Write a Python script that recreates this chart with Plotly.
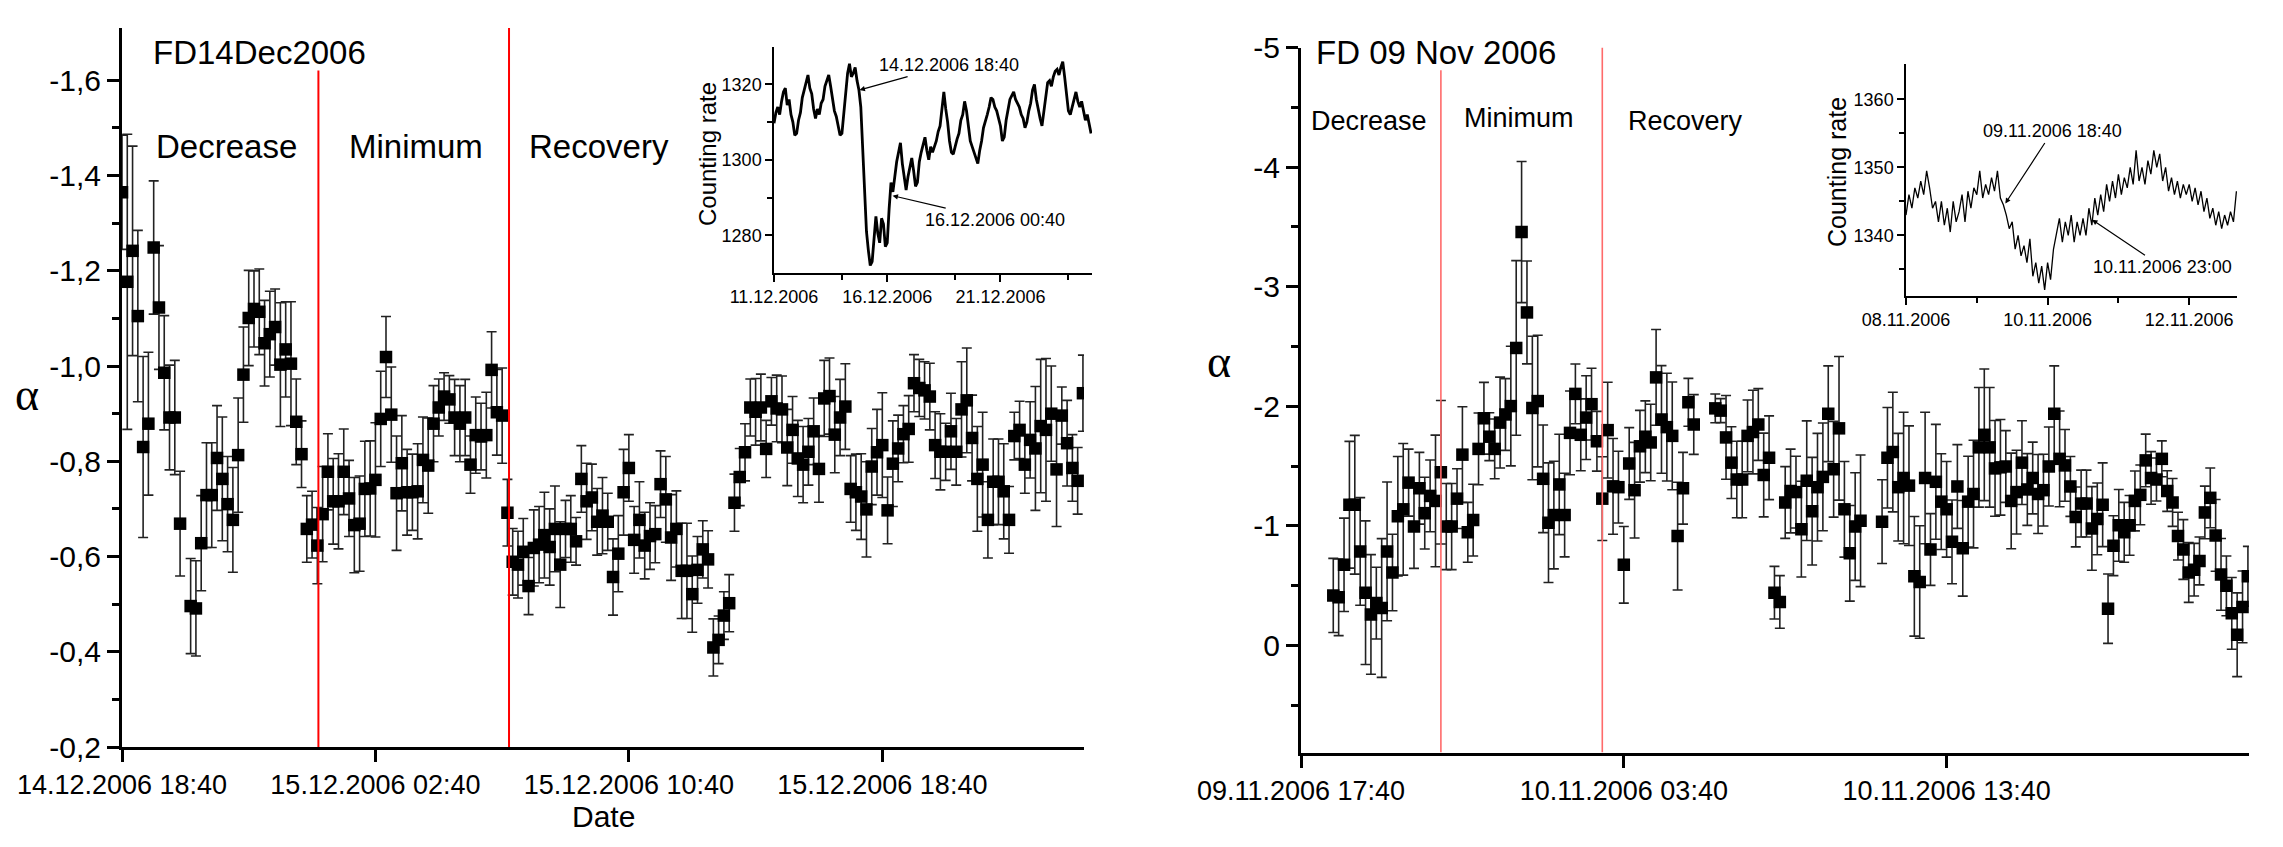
import plotly.graph_objects as go
import pandas as pd

# ---------------- data ----------------
left_start = "2006-12-14 18:40"          # 10-minute samples
left_alpha = [
    -1.365, -1.177, -1.242, -1.105, -0.830, -0.879, -1.249, -1.123, -0.986, -0.892,
    -0.892, -0.669, None, -0.496, -0.491, -0.628, -0.729, -0.729, -0.807, -0.763,
    -0.710, -0.677, -0.813, -0.982, -1.101, -1.120, -1.114, -1.048, -1.067, -1.082,
    -1.003, -1.035, -1.005, -0.883, -0.815, -0.658, -0.667, -0.623, -0.689, -0.778,
    -0.716, -0.716, -0.778, -0.722, -0.666, -0.669, -0.742, -0.743, -0.761, -0.889,
    -1.019, -0.898, -0.733, -0.796, -0.735, -0.735, -0.737, -0.803, -0.791, -0.879,
    -0.913, -0.936, -0.930, -0.892, -0.879, -0.892, -0.793, -0.855, -0.852, -0.855,
    -0.992, -0.903, -0.896, -0.692, -0.589, -0.583, -0.610, -0.538, -0.618, -0.625,
    -0.645, -0.620, -0.658, -0.583, -0.658, -0.658, -0.632, -0.763, -0.716, -0.724,
    -0.673, -0.686, -0.673, -0.557, -0.606, -0.735, -0.786, -0.635, -0.677, -0.623,
    -0.643, -0.647, -0.752, -0.720, -0.640, -0.658, -0.570, -0.570, -0.521, -0.572,
    -0.615, -0.594, -0.409, -0.425, -0.476, -0.502, -0.713, -0.767, -0.819, -0.913,
    -0.904, -0.913, -0.826, -0.926, -0.911, -0.909, -0.829, -0.866, -0.806, -0.793,
    -0.820, -0.863, -0.784, -0.932, -0.937, -0.856, -0.892, -0.915, -0.742, -0.735,
    -0.726, -0.699, -0.789, -0.819, -0.834, -0.697, -0.795, -0.827, -0.857, -0.868,
    -0.964, -0.954, -0.949, -0.936, -0.834, -0.820, -0.820, -0.863, -0.820, -0.909,
    -0.928, -0.849, -0.763, -0.793, -0.677, -0.757, -0.757, -0.737, -0.677, -0.853,
    -0.866, -0.793, -0.845, -0.827, -0.874, -0.866, -0.900, -0.783, -0.896, -0.838,
    -0.786, -0.759, -0.943,
]
left_err = [
    0.12, 0.31, 0.22, 0.18, 0.19, 0.15, 0.14, 0.13, 0.12, 0.11,
    0.12, 0.11, 0.0, 0.10, 0.10, 0.10, 0.11, 0.11, 0.11, 0.13,
    0.10, 0.11, 0.12, 0.10, 0.10, 0.08, 0.09, 0.09, 0.09, 0.08,
    0.13, 0.10, 0.13, 0.09, 0.07, 0.07, 0.07, 0.08, 0.10, 0.08,
    0.09, 0.10, 0.09, 0.08, 0.10, 0.10, 0.10, 0.10, 0.12, 0.10,
    0.085, 0.10, 0.12, 0.10, 0.09, 0.08, 0.10, 0.09, 0.10, 0.08,
    0.06, 0.05, 0.05, 0.08, 0.08, 0.08, 0.06, 0.08, 0.07, 0.09,
    0.08, 0.09, 0.10, 0.07, 0.07, 0.07, 0.07, 0.06, 0.08, 0.08,
    0.09, 0.08, 0.09, 0.09, 0.06, 0.07, 0.05, 0.07, 0.08, 0.07,
    0.07, 0.08, 0.06, 0.08, 0.08, 0.09, 0.07, 0.07, 0.08, 0.07,
    0.07, 0.06, 0.07, 0.09, 0.09, 0.08, 0.10, 0.10, 0.08, 0.07,
    0.06, 0.06, 0.06, 0.05, 0.05, 0.06, 0.06, 0.06, 0.06, 0.06,
    0.07, 0.07, 0.06, 0.05, 0.07, 0.07, 0.08, 0.07, 0.08, 0.08,
    0.07, 0.07, 0.07, 0.08, 0.08, 0.08, 0.08, 0.09, 0.07, 0.08,
    0.09, 0.10, 0.08, 0.09, 0.11, 0.07, 0.09, 0.07, 0.06, 0.07,
    0.06, 0.06, 0.06, 0.07, 0.07, 0.08, 0.06, 0.08, 0.07, 0.10,
    0.11, 0.09, 0.11, 0.11, 0.08, 0.09, 0.09, 0.10, 0.07, 0.05,
    0.06, 0.06, 0.08, 0.13, 0.14, 0.15, 0.10, 0.12, 0.06, 0.09,
    0.07, 0.07, 0.08,
]

right_start = "2006-11-09 18:40"         # 10-minute samples
right_alpha = [
    -0.419, -0.403, -0.675, -1.177, -1.177, -0.787, -0.442, -0.260, -0.355, -0.314,
    -0.787, -0.611, -1.081, -1.139, -1.362, -0.995, -1.315, -1.107, -1.251, -1.209,
    -1.449, -0.995, -0.995, -1.228, -1.596, -0.947, -1.049, -1.644, -1.900, -1.746,
    -1.644, -1.864, -1.932, -2.002, -2.488, -3.457, -2.785, -1.986, -2.044, -1.394,
    -1.027, -1.091, -1.347, -1.091, -1.778, -2.104, -1.762, -1.906, -2.018, -1.708,
    -1.228, -1.801, -1.331, -1.324, -0.675, -1.522, -1.299, -1.666, -1.746, -1.698,
    -2.242, -1.890, -1.826, -1.753, -0.915, -1.315, -2.034, -1.848, None, None,
    None, -1.983, -1.964, -1.740, -1.529, -1.388, -1.388, -1.753, -1.785, -1.848,
    -1.426, -1.570, -0.442, -0.365, -1.196, -1.292, -1.283, -0.973, -1.378, -1.123,
    -1.324, -1.410, -1.938, -1.474, -1.816, -1.139, -0.771, -0.995, -1.043, None,
    None, None, -1.036, -1.570, -1.618, -1.324, -1.401, -1.337, -0.579, -0.531,
    -1.401, -0.803, -1.369, -1.203, -1.139, -0.867, -1.330, -0.813, -1.203, -1.267,
    -1.657, -1.762, -1.657, -1.481, -1.490, -1.497, -1.209, -1.283, -1.529, -1.305,
    -1.401, -1.267, -1.299, -1.497, -1.938, -1.561, -1.506, -1.330, -1.075, -1.187,
    -1.187, -0.979, -1.059, -1.177, -0.308, -0.835, -1.005, -0.947, -1.005, -1.209,
    -1.260, -1.548, -1.401, -1.388, -1.561, -1.292, -1.196, -0.915, -0.803, -0.611,
    -0.634, -0.707, -1.113, -1.235, -0.921, -0.595, -0.499, -0.269, -0.090, -0.323,
    -0.579,
]
right_err = [
    0.31, 0.32, 0.39, 0.53, 0.58, 0.45, 0.60, 0.50, 0.30, 0.58,
    0.58, 0.32, 0.50, 0.55, 0.28, 0.35, 0.30, 0.30, 0.30, 0.55,
    0.60, 0.36, 0.36, 0.25, 0.40, 0.25, 0.30, 0.30, 0.30, 0.20,
    0.25, 0.38, 0.30, 0.50, 0.73, 0.59, 0.43, 0.60, 0.55, 0.45,
    0.50, 0.45, 0.42, 0.35, 0.35, 0.25, 0.30, 0.35, 0.30, 0.25,
    0.35, 0.40, 0.40, 0.30, 0.32, 0.30, 0.40, 0.30, 0.30, 0.32,
    0.40, 0.45, 0.45, 0.45, 0.45, 0.30, 0.20, 0.25, 0.0, 0.0,
    0.0, 0.12, 0.10, 0.35, 0.30, 0.32, 0.32, 0.30, 0.35, 0.30,
    0.35, 0.35, 0.22, 0.22, 0.30, 0.35, 0.30, 0.40, 0.50, 0.45,
    0.45, 0.45, 0.40, 0.40, 0.60, 0.40, 0.40, 0.45, 0.55, 0.0,
    0.0, 0.0, 0.35, 0.42, 0.50, 0.45, 0.55, 0.50, 0.50, 0.47,
    0.55, 0.30, 0.48, 0.40, 0.40, 0.35, 0.35, 0.40, 0.38, 0.45,
    0.50, 0.55, 0.50, 0.40, 0.40, 0.30, 0.40, 0.35, 0.35, 0.30,
    0.30, 0.33, 0.30, 0.33, 0.40, 0.40, 0.30, 0.25, 0.25, 0.28,
    0.28, 0.35, 0.30, 0.35, 0.29, 0.25, 0.30, 0.25, 0.25, 0.25,
    0.25, 0.22, 0.22, 0.18, 0.15, 0.17, 0.20, 0.20, 0.25, 0.25,
    0.22, 0.20, 0.22, 0.25, 0.30, 0.30, 0.25, 0.30, 0.35, 0.30,
    0.25,
]

# inset: counting rate (Dec 2006), 2-hour samples from 11.12.2006 00:00
dec_rate_start = "2006-12-11 00:00"
dec_rate = [
    1309.7, 1312.5, 1314.0, 1312.0, 1315.5, 1318.0, 1319.0, 1314.5, 1316.0, 1312.0,
    1310.0, 1306.5, 1307.0, 1310.5, 1312.5, 1316.5, 1318.5, 1321.0, 1322.5, 1319.0,
    1317.5, 1313.5, 1311.0, 1313.5, 1312.0, 1315.0, 1316.0, 1319.5, 1321.0, 1322.5,
    1319.5, 1316.0, 1313.0, 1311.5, 1309.0, 1306.5, 1307.0, 1313.0, 1318.0, 1323.0,
    1325.5, 1322.0, 1323.0, 1324.5, 1321.0, 1318.5, 1314.0, 1303.0, 1292.0, 1281.0,
    1276.0, 1272.0, 1273.0, 1280.0, 1285.0, 1280.5, 1278.0, 1284.5, 1283.0, 1277.0,
    1278.0, 1287.0, 1294.0, 1291.5, 1296.0, 1299.5, 1302.0, 1304.5, 1299.0, 1295.0,
    1292.0, 1295.5, 1298.0, 1300.5, 1297.0, 1293.0, 1294.0, 1299.5, 1302.0, 1304.0,
    1306.0, 1302.5, 1300.0, 1303.5, 1302.0, 1303.5, 1305.0, 1307.5, 1309.0, 1313.5,
    1318.0, 1313.5, 1310.0, 1305.0, 1302.0, 1301.5, 1304.0, 1305.5, 1307.0, 1310.5,
    1312.0, 1315.5, 1313.0, 1309.0, 1305.0, 1303.5, 1302.0, 1300.5, 1299.0, 1302.5,
    1305.0, 1308.5, 1310.0, 1312.0, 1314.0, 1316.5, 1316.0, 1314.0, 1313.0, 1310.5,
    1309.0, 1305.0, 1306.0, 1310.5, 1313.0, 1316.0, 1317.0, 1318.0, 1316.0, 1315.0,
    1314.0, 1312.0, 1311.0, 1308.5, 1310.0, 1313.0, 1315.0, 1318.5, 1320.0, 1316.0,
    1313.0, 1311.0, 1309.0, 1313.0, 1318.0, 1320.5, 1321.0, 1319.5, 1322.0, 1323.5,
    1324.0, 1322.5, 1324.5, 1326.0, 1322.0, 1318.0, 1313.0, 1312.0, 1314.0, 1316.5,
    1318.0, 1315.5, 1314.0, 1315.5, 1313.0, 1310.5, 1312.0, 1309.0, 1307.0,
]
# inset: counting rate (Nov 2006), hourly samples from 08.11.2006 00:00
nov_rate_start = "2006-11-08 00:00"
nov_rate = [
    1343.0, 1346.0, 1344.0, 1347.0, 1345.5, 1348.0, 1346.0, 1349.5, 1347.0, 1344.0,
    1345.0, 1342.0, 1345.0, 1341.5, 1344.0, 1340.5, 1345.0, 1342.0, 1343.5, 1346.0,
    1342.0, 1346.5, 1344.0, 1347.0, 1346.0, 1349.5, 1345.5, 1347.5, 1346.0, 1348.5,
    1346.5, 1349.5, 1345.5, 1344.5, 1343.0, 1341.0, 1342.0, 1338.0, 1340.0, 1337.0,
    1338.5, 1336.0, 1339.5, 1334.0, 1336.0, 1333.0, 1335.5, 1332.0, 1336.0, 1333.5,
    1338.0, 1340.5, 1342.5, 1339.0, 1342.0, 1340.0, 1343.0, 1339.0, 1342.0, 1340.0,
    1342.5, 1340.0, 1344.0, 1341.5, 1345.5, 1343.0, 1346.0, 1343.5, 1347.5, 1345.0,
    1348.0, 1345.5, 1349.0, 1346.0, 1348.5, 1347.0, 1350.0, 1347.5, 1352.5, 1348.0,
    1350.0, 1347.5, 1351.0, 1349.0, 1352.5, 1350.0, 1352.0, 1348.0, 1350.0, 1346.5,
    1348.5, 1346.0, 1348.0, 1345.5, 1347.5, 1346.0, 1347.5, 1345.0, 1347.0, 1344.5,
    1346.5, 1343.5, 1345.5, 1342.5, 1344.0, 1341.5, 1343.5, 1341.0, 1343.0, 1341.5,
    1343.5, 1342.0, 1346.5,
]

left_xticks = ["2006-12-14 18:40", "2006-12-15 02:40", "2006-12-15 10:40", "2006-12-15 18:40"]
left_xticktext = ["14.12.2006 18:40", "15.12.2006 02:40", "15.12.2006 10:40", "15.12.2006 18:40"]
left_yticks = [-1.6, -1.4, -1.2, -1.0, -0.8, -0.6, -0.4, -0.2]
left_yticktext = ["-1,6", "-1,4", "-1,2", "-1,0", "-0,8", "-0,6", "-0,4", "-0,2"]
right_xticks = ["2006-11-09 17:40", "2006-11-10 03:40", "2006-11-10 13:40"]
right_xticktext = ["09.11.2006 17:40", "10.11.2006 03:40", "10.11.2006 13:40"]
right_yticks = [-5, -4, -3, -2, -1, 0]
right_yticktext = ["-5", "-4", "-3", "-2", "-1", "0"]
dec_xticks = ["2006-12-11", "2006-12-16", "2006-12-21"]
dec_xticktext = ["11.12.2006", "16.12.2006", "21.12.2006"]
nov_xticks = ["2006-11-08", "2006-11-10", "2006-11-12"]
nov_xticktext = ["08.11.2006", "10.11.2006", "12.11.2006"]

left_phase_lines = ["2006-12-15 00:52", "2006-12-15 06:53"]
right_phase_lines = ["2006-11-09 22:00", "2006-11-10 03:00"]

# ---------------- figure ----------------
PAGE_W, PAGE_H = 2283, 847
OFF = 8                      # default page body margin
W, H = PAGE_W - 2 * OFF, PAGE_H - 2 * OFF
FONT = "Liberation Sans, Arial, sans-serif"

def fx(x):
    return (x - OFF) / W

def fy(y):
    return 1 - (y - OFF) / H

left_t = pd.date_range(left_start, periods=len(left_alpha), freq="10min")
right_t = pd.date_range(right_start, periods=len(right_alpha), freq="10min")
dec_t = pd.date_range(dec_rate_start, periods=len(dec_rate), freq="2h")
nov_t = pd.date_range(nov_rate_start, periods=len(nov_rate), freq="1h")

fig = go.Figure()

err_style = dict(type="data", symmetric=True, color="#222222", thickness=1.6, width=5)
mk = dict(symbol="square", size=12.5, color="black", line=dict(width=0))

fig.add_trace(go.Scatter(x=left_t, y=left_alpha, mode="markers", marker=mk,
                         error_y=dict(array=left_err, **err_style),
                         xaxis="x", yaxis="y", showlegend=False, cliponaxis=True))
fig.add_trace(go.Scatter(x=right_t, y=right_alpha, mode="markers", marker=mk,
                         error_y=dict(array=right_err, **err_style),
                         xaxis="x2", yaxis="y2", showlegend=False, cliponaxis=True))
fig.add_trace(go.Scatter(x=dec_t, y=dec_rate, mode="lines",
                         line=dict(color="black", width=2.8),
                         xaxis="x3", yaxis="y3", showlegend=False))
fig.add_trace(go.Scatter(x=nov_t, y=nov_rate, mode="lines",
                         line=dict(color="black", width=1.3),
                         xaxis="x4", yaxis="y4", showlegend=False))

main_axis = dict(showline=True, linecolor="black", linewidth=3, showgrid=False,
                 zeroline=False, ticks="outside", tickcolor="black", tickwidth=2.5,
                 ticklen=12, automargin=False,
                 tickfont=dict(family=FONT, size=27, color="black"))
inset_axis = dict(showline=True, linecolor="black", linewidth=1.5, showgrid=False,
                  zeroline=False, ticks="outside", tickcolor="black", tickwidth=1.5,
                  ticklen=7, automargin=False,
                  tickfont=dict(family=FONT, size=18, color="black"))

fig.update_layout(
    width=W, height=H, margin=dict(l=0, r=0, t=0, b=0, autoexpand=False),
    paper_bgcolor="white", plot_bgcolor="rgba(0,0,0,0)",
    xaxis=dict(main_axis, domain=[fx(122), fx(1084)], anchor="y",
               range=["2006-12-14 18:40", "2006-12-16 01:02"],
               tickmode="array", tickvals=left_xticks, ticktext=left_xticktext),
    yaxis=dict(main_axis, domain=[fy(747), fy(28)], anchor="x",
               range=[-0.2, -1.71], tickmode="array",
               tickvals=left_yticks, ticktext=left_yticktext,
               tickfont=dict(family=FONT, size=30, color="black"),
               minor=dict(tickvals=[-1.5, -1.3, -1.1, -0.9, -0.7, -0.5, -0.3],
                          ticklen=7, tickwidth=2.5, tickcolor="black", ticks="outside")),
    xaxis2=dict(main_axis, domain=[fx(1301), fx(2249)], anchor="y2",
                range=["2006-11-09 17:40", "2006-11-10 23:02"],
                tickmode="array", tickvals=right_xticks, ticktext=right_xticktext),
    yaxis2=dict(main_axis, domain=[fy(752.6), fy(47.5)], anchor="x2",
                range=[0.895, -5.0], tickmode="array",
                tickvals=right_yticks, ticktext=right_yticktext,
                tickfont=dict(family=FONT, size=30, color="black"),
                minor=dict(tickvals=[-4.5, -3.5, -2.5, -1.5, -0.5, 0.5],
                           ticklen=7, tickwidth=2.5, tickcolor="black", ticks="outside")),
    xaxis3=dict(inset_axis, domain=[fx(774), fx(1092)], anchor="y3",
                range=["2006-12-11 00:00", "2006-12-25 01:00"],
                tickmode="array", tickvals=dec_xticks, ticktext=dec_xticktext,
                minor=dict(tickvals=["2006-12-14", "2006-12-19", "2006-12-24"],
                           ticklen=5, tickwidth=1.5, tickcolor="black", ticks="outside")),
    yaxis3=dict(inset_axis, domain=[fy(273), fy(46.7)], anchor="x3",
                range=[1270, 1330], tickmode="array", tickvals=[1280, 1300, 1320],
                minor=dict(tickvals=[1290, 1310], ticklen=5, tickwidth=1.5,
                           tickcolor="black", ticks="outside")),
    xaxis4=dict(inset_axis, domain=[fx(1906), fx(2237)], anchor="y4",
                range=["2006-11-08 00:00", "2006-11-12 16:12"],
                tickmode="array", tickvals=nov_xticks, ticktext=nov_xticktext,
                minor=dict(tickvals=["2006-11-09", "2006-11-11"],
                           ticklen=5, tickwidth=1.5, tickcolor="black", ticks="outside")),
    yaxis4=dict(inset_axis, domain=[fy(296), fy(64)], anchor="x4",
                range=[1331.1, 1365.2], tickmode="array", tickvals=[1340, 1350, 1360],
                minor=dict(tickvals=[1335, 1345, 1355], ticklen=5, tickwidth=1.5,
                           tickcolor="black", ticks="outside")),
)

# phase separation lines
fig.add_shape(type="line", xref="x", yref="y", x0=left_phase_lines[0], x1=left_phase_lines[0],
              y0=-0.2, y1=-1.621, line=dict(color="#ff0000", width=2))
fig.add_shape(type="line", xref="x", yref="y", x0=left_phase_lines[1], x1=left_phase_lines[1],
              y0=-0.2, y1=-1.71, line=dict(color="#ff0000", width=2))
fig.add_shape(type="line", xref="x2", yref="y2", x0=right_phase_lines[0], x1=right_phase_lines[0],
              y0=0.895, y1=-4.81, line=dict(color="#ff6a6a", width=1.6))
fig.add_shape(type="line", xref="x2", yref="y2", x0=right_phase_lines[1], x1=right_phase_lines[1],
              y0=0.895, y1=-5.0, line=dict(color="#ff6a6a", width=1.6))

def txt(x, y, s, size, xanchor="center", family=FONT, angle=0):
    fig.add_annotation(x=fx(x), y=fy(y), xref="paper", yref="paper", text=s,
                       showarrow=False, xanchor=xanchor, yanchor="middle", textangle=angle,
                       font=dict(family=family, size=size, color="black"))

txt(151, 52, "FD14Dec2006", 33, xanchor="left")
txt(226, 146, "Decrease", 33)
txt(416, 146, "Minimum", 33)
txt(599, 146, "Recovery", 33)
txt(603, 816, "Date", 30)
txt(27, 395, "α", 46, family="Liberation Serif, Times New Roman, serif")

txt(1314, 52, "FD 09 Nov 2006", 33, xanchor="left")
txt(1369, 121, "Decrease", 27)
txt(1519, 118, "Minimum", 27)
txt(1685, 121, "Recovery", 27)
txt(1219, 361, "α", 46, family="Liberation Serif, Times New Roman, serif")

txt(708, 154, "Counting rate", 24, angle=-90)
txt(1837, 172, "Counting rate", 25, angle=-90)

def arrow(xref, yref, x, y, s, ax, ay):
    fig.add_annotation(x=x, y=y, xref=xref, yref=yref, text=s, showarrow=True,
                       ax=ax, ay=ay, arrowhead=2, arrowsize=0.9, arrowwidth=1.2,
                       arrowcolor="black", standoff=0,
                       font=dict(family=FONT, size=18, color="black"))

arrow("x3", "y3", "2006-12-14 18:40", 1318.5, "14.12.2006 18:40", 89, -25)
arrow("x3", "y3", "2006-12-16 05:40", 1290.5, "16.12.2006 00:40", 102, 24)
arrow("x4", "y4", "2006-11-09 09:40", 1344.7, "09.11.2006 18:40", 47, -72)
arrow("x4", "y4", "2006-11-10 15:05", 1342.3, "10.11.2006 23:00", 70, 47)

fig.write_html("out.html")
